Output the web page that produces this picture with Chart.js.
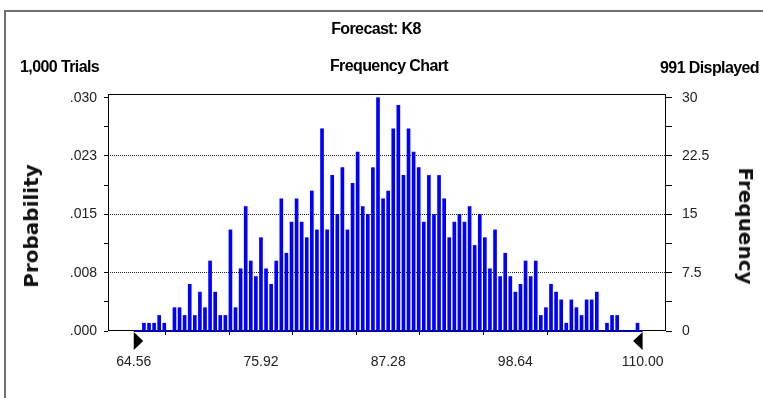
<!DOCTYPE html>
<html>
<head>
<meta charset="utf-8">
<script src="https://cdn.jsdelivr.net/npm/chart.js@4/dist/chart.umd.min.js"></script>
<style>
  html, body { margin: 0; padding: 0; background: #fff; }
  #wrap { position: relative; width: 763px; height: 398px; overflow: hidden; }
  #box { position: absolute; left: 4px; top: 10px; width: 900px; height: 500px;
         border-left: 2px solid #707070; border-top: 2px solid #707070; }
  canvas { position: absolute; left: 0; top: 0; }
  .hdr { position: absolute; font: bold 16px "Liberation Sans", Arial, sans-serif;
         letter-spacing: -0.6px; line-height: 16px; white-space: nowrap; color: #000; }
  .axt { position: absolute; font: bold 20px "DejaVu Sans", sans-serif; line-height: 20px;
         white-space: nowrap; color: #111; }
</style>
</head>
<body>
<div id="wrap">
  <div id="box"></div>
  <canvas id="chart" width="763" height="398"></canvas>
  <div class="hdr" style="left:376px; top:21px; transform:translateX(-50%)">Forecast: K8</div>
  <div class="hdr" style="left:20px; top:59px">1,000 Trials</div>
  <div class="hdr" style="left:389px; top:58px; transform:translateX(-50%)">Frequency Chart</div>
  <div class="hdr" style="right:4px; top:60px">991 Displayed</div>
  <div class="axt" style="left:31px; top:226px; transform:translate(-50%,-50%) rotate(-90deg)">Probability</div>
  <div class="axt" style="left:746px; top:226px; transform:translate(-50%,-50%) rotate(90deg)">Frequency</div>
</div>
<script>
const xTickLabels = ["64.56", "75.92", "87.28", "98.64", "110.00"];
const freqTicks = [0, 7.5, 15, 22.5, 30];
const freqTickLabels = ["0", "7.5", "15", "22.5", "30"];
const probTickLabels = [".000", ".008", ".015", ".023", ".030"];

// trials per group, 101 groups from 64.56 to 110.00
const frequency = [
  0, 0, 1, 1, 1, 2, 1, 0, 3, 3, 2, 6, 2, 5, 3, 9, 5, 2, 2, 13, 3, 8, 16, 9, 7,
  12, 8, 6, 9, 17, 10, 14, 17, 14, 12, 18, 13, 26, 13, 20, 15, 21, 13, 19, 23, 16, 15, 21, 30,
  17, 18, 26, 29, 20, 26, 23, 21, 14, 20, 15, 20, 17, 12, 14, 15, 14, 16, 11, 15, 12, 8, 13,
  7, 10, 7, 5, 6, 9, 7, 9, 2, 3, 6, 5, 4, 1, 4, 3, 2, 4, 4, 5, 0, 1, 2, 2, 0, 0, 0, 1,
  0
];

const rangeMin = parseFloat(xTickLabels[0]);
const rangeMax = parseFloat(xTickLabels[xTickLabels.length - 1]);
const binWidth = (rangeMax - rangeMin) / (frequency.length - 1);
const binCenters = frequency.map((_, i) => rangeMin + i * binWidth);

const xMajor = xTickLabels.map(parseFloat);
const withMidpoints = arr => arr.flatMap((v, i) => i ? [(arr[i - 1] + v) / 2, v] : [v]);
const xTickValues = withMidpoints(xMajor);
const yTickValues = withMidpoints(freqTicks);

const tickFont = { family: "'Liberation Sans', Arial, sans-serif", size: 14 };
const clear = "rgba(0,0,0,0)";

const frameAndRange = {
  id: "frameAndRange",
  afterDatasetsDraw(chart) {
    const { ctx, chartArea: a, scales: { x } } = chart;
    ctx.save();
    ctx.strokeStyle = "#000";
    ctx.lineWidth = 1;
    ctx.strokeRect(a.left + 0.5, a.top + 0.5, a.right - a.left - 1, a.bottom - a.top - 1);

    const xl = x.getPixelForValue(rangeMin);
    const xr = x.getPixelForValue(rangeMax);
    const yb = a.bottom;
    ctx.strokeStyle = "#0000a8";
    ctx.lineWidth = 2;
    ctx.beginPath();
    ctx.moveTo(xl, yb);
    ctx.lineTo(xr, yb);
    ctx.stroke();

    ctx.fillStyle = "#000";
    ctx.beginPath();
    ctx.moveTo(xl, yb + 1);
    ctx.lineTo(xl + 9.5, yb + 10);
    ctx.lineTo(xl, yb + 19);
    ctx.closePath();
    ctx.fill();
    ctx.beginPath();
    ctx.moveTo(xr, yb + 1);
    ctx.lineTo(xr - 9.5, yb + 10);
    ctx.lineTo(xr, yb + 19);
    ctx.closePath();
    ctx.fill();
    ctx.restore();
  }
};

new Chart(document.getElementById("chart"), {
  type: "bar",
  data: {
    datasets: [{
      data: binCenters.map((c, i) => ({ x: c, y: frequency[i] })),
      backgroundColor: "#0000ff",
      borderWidth: 0,
      barThickness: 3,
      xAxisID: "x",
      yAxisID: "y"
    }]
  },
  options: {
    responsive: false,
    devicePixelRatio: 1,
    animation: false,
    layout: { padding: { top: 94, bottom: 27, left: 0, right: 0 } },
    plugins: { legend: { display: false }, tooltip: { enabled: false } },
    scales: {
      x: {
        type: "linear",
        bounds: "data",
        min: 62.26,
        max: 112.09,
        offset: false,
        afterBuildTicks: s => { s.ticks = xTickValues.map(v => ({ value: v })); },
        afterFit: s => { s.height = 40; },
        grid: {
          drawOnChartArea: false,
          tickLength: 4,
          tickColor: c => (c.tick && (c.tick.value === rangeMin || c.tick.value === rangeMax)) ? clear : "#000"
        },
        border: { display: false },
        ticks: {
          autoSkip: false,
          maxRotation: 0,
          padding: 19,
          font: tickFont,
          color: "#222",
          callback: v => {
            const i = xMajor.indexOf(v);
            return i >= 0 ? xTickLabels[i] : "";
          }
        }
      },
      y: {
        position: "left",
        bounds: "data",
        min: 0,
        max: 30.47,
        afterBuildTicks: s => { s.ticks = yTickValues.map(v => ({ value: v })); },
        afterFit: s => { s.width = 108; },
        grid: {
          color: c => {
            const v = c.tick ? c.tick.value : -1;
            return (v > 0 && v < 30 && freqTicks.includes(v)) ? "#222" : clear;
          },
          tickColor: "#000",
          tickLength: 4
        },
        border: { display: false, dash: [1, 1] },
        ticks: {
          autoSkip: false,
          padding: 7,
          font: tickFont,
          color: "#222",
          callback: v => {
            const i = freqTicks.indexOf(v);
            return i >= 0 ? probTickLabels[i] : "";
          }
        }
      },
      y2: {
        position: "right",
        bounds: "data",
        min: 0,
        max: 30.47,
        afterBuildTicks: s => { s.ticks = yTickValues.map(v => ({ value: v })); },
        afterFit: s => { s.width = 97; },
        grid: { drawOnChartArea: false, tickColor: "#000", tickLength: 6 },
        border: { display: false },
        ticks: {
          autoSkip: false,
          padding: 10,
          font: tickFont,
          color: "#222",
          callback: v => {
            const i = freqTicks.indexOf(v);
            return i >= 0 ? freqTickLabels[i] : "";
          }
        }
      }
    }
  },
  plugins: [frameAndRange]
});
</script>
</body>
</html>
